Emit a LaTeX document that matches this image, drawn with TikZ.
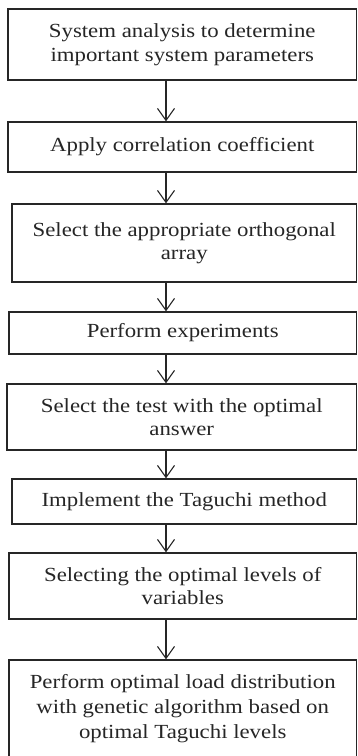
\documentclass[tikz,border=0pt]{standalone}
\usepackage{fontspec}
\setmainfont{Liberation Serif}[FakeStretch=1.14]
\usetikzlibrary{arrows.meta}
\begin{document}
\begin{tikzpicture}[x=1pt,y=1pt,
  stepbox/.style={draw=black!85, line width=1.3pt, rectangle, inner sep=0pt,
    align=center, font=\fontsize{20}{23.5}\selectfont, text=black!85},
  arr/.style={line width=1.1pt, draw=black!85, -{Straight Barb[length=12pt,width=17pt,line width=1.1pt]}}]
\clip (0,0) rectangle (358,-756);
\fill[white] (0,0) rectangle (358,-756);
\coordinate (ax) at (166,0);
\node[stepbox, minimum width=348.5, minimum height=71] (b1) at (182.25,-44.5)
  {System analysis to determine\\important system parameters};
\node[stepbox, minimum width=348.5, minimum height=50] (b2) at (182.25,-147)
  {Apply correlation coefficient};
\node[stepbox, minimum width=344.5, minimum height=78] (b3) at (184.25,-243)
  {Select the appropriate orthogonal\\array};
\node[stepbox, minimum width=347.5, minimum height=42] (b4) at (182.75,-333)
  {Perform experiments};
\node[stepbox, minimum width=349.5, minimum height=66] (b5) at (181.75,-417)
  {Select the test with the optimal\\answer};
\node[stepbox, minimum width=344.5, minimum height=45] (b6) at (184.25,-501.5)
  {Implement the Taguchi method};
\node[stepbox, minimum width=347.5, minimum height=66] (b7) at (182.75,-586)
  {Selecting the optimal levels of\\variables};
\node[stepbox, minimum width=347.5, minimum height=98, font=\fontsize{20}{25}\selectfont] (b8) at (182.75,-709)
  {Perform optimal load distribution\\with genetic algorithm based on\\optimal Taguchi levels};
\draw[arr] (b1.south -| ax) -- (b2.north -| ax);
\draw[arr] (b2.south -| ax) -- (b3.north -| ax);
\draw[arr] (b3.south -| ax) -- (b4.north -| ax);
\draw[arr] (b4.south -| ax) -- (b5.north -| ax);
\draw[arr] (b5.south -| ax) -- (b6.north -| ax);
\draw[arr] (b6.south -| ax) -- (b7.north -| ax);
\draw[arr] (b7.south -| ax) -- (b8.north -| ax);
\end{tikzpicture}
\end{document}
